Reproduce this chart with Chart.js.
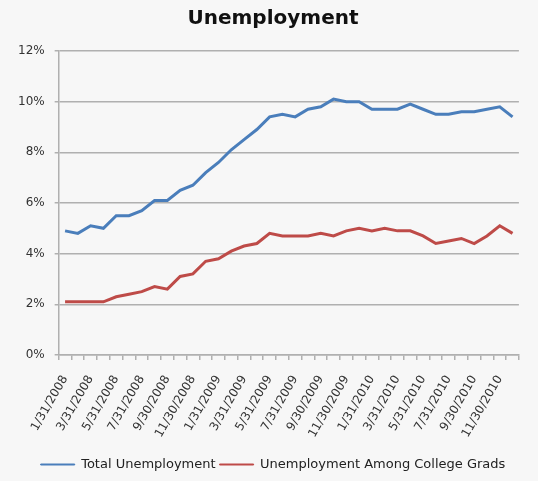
<!DOCTYPE html>
<html>
<head>
<meta charset="utf-8">
<title>Unemployment</title>
<script src="https://cdn.jsdelivr.net/npm/chart.js@4"></script>
<style>
    html, body { margin: 0; padding: 0; background: #f7f7f7; }
    #grafico { width: 538px; height: 481px; }
</style>
</head>
<body>
<div id="grafico"><canvas id="grafico-desemprego"></canvas></div>
<script>
// Month-end dates (only every other one is labelled)
const months = [
    '1/31/2008', '2/29/2008', '3/31/2008', '4/30/2008', '5/31/2008', '6/30/2008',
    '7/31/2008', '8/31/2008', '9/30/2008', '10/31/2008', '11/30/2008', '12/31/2008',
    '1/31/2009', '2/28/2009', '3/31/2009', '4/30/2009', '5/31/2009', '6/30/2009',
    '7/31/2009', '8/31/2009', '9/30/2009', '10/31/2009', '11/30/2009', '12/31/2009',
    '1/31/2010', '2/28/2010', '3/31/2010', '4/30/2010', '5/31/2010', '6/30/2010',
    '7/31/2010', '8/31/2010', '9/30/2010', '10/31/2010', '11/30/2010', '12/31/2010'
];

const totalUnemployment = [
    4.9, 4.8, 5.1, 5.0, 5.5, 5.5, 5.7, 6.1, 6.1, 6.5, 6.7, 7.2,
    7.6, 8.1, 8.5, 8.9, 9.4, 9.5, 9.4, 9.7, 9.8, 10.1, 10.0, 10.0,
    9.7, 9.7, 9.7, 9.9, 9.7, 9.5, 9.5, 9.6, 9.6, 9.7, 9.8, 9.4
];

const collegeGrads = [
    2.1, 2.1, 2.1, 2.1, 2.3, 2.4, 2.5, 2.7, 2.6, 3.1, 3.2, 3.7,
    3.8, 4.1, 4.3, 4.4, 4.8, 4.7, 4.7, 4.7, 4.8, 4.7, 4.9, 5.0,
    4.9, 5.0, 4.9, 4.9, 4.7, 4.4, 4.5, 4.6, 4.4, 4.7, 5.1, 4.8
];

const yTicks = [0, 2, 4, 6, 8, 10, 12];

const corAzul = '#4a7ebb';
const corVermelha = '#be4b48';
const corGrade = '#b0b0b0';
const fonte = "'DejaVu Sans', Verdana, sans-serif";

function gerarGrafico() {
    const ctx = document.getElementById('grafico-desemprego').getContext('2d');

    new Chart(ctx, {
        type: 'line',
        data: {
            labels: months,
            datasets: [{
                label: 'Total Unemployment',
                data: totalUnemployment,
                borderColor: corAzul,
                backgroundColor: corAzul,
                borderWidth: 3,
                pointRadius: 0,
                tension: 0
            }, {
                label: 'Unemployment Among College Grads',
                data: collegeGrads,
                borderColor: corVermelha,
                backgroundColor: corVermelha,
                borderWidth: 3,
                pointRadius: 0,
                tension: 0
            }]
        },
        options: {
            responsive: true,
            maintainAspectRatio: false,
            animation: false,
            layout: {
                padding: { left: 8, right: 0, top: 0, bottom: 0 }
            },
            scales: {
                x: {
                    offset: true,
                    grid: {
                        offset: true,
                        drawOnChartArea: false,
                        color: corGrade,
                        tickLength: 5,
                        lineWidth: 1.5
                    },
                    border: { color: corGrade, width: 1.5 },
                    ticks: {
                        autoSkip: false,
                        minRotation: 60,
                        maxRotation: 60,
                        padding: 13,
                        color: '#333',
                        font: { family: fonte, size: 12 },
                        callback: function (valor, i) {
                            return i % 2 === 0 ? months[i] : '';
                        }
                    },
                    afterFit: function (escala) {
                        escala.height = 99;
                    }
                },
                y: {
                    min: 0,
                    max: 12,
                    afterBuildTicks: function (escala) {
                        escala.ticks = yTicks.map(v => ({ value: v }));
                    },
                    grid: {
                        color: corGrade,
                        lineWidth: 1.5,
                        tickLength: 4
                    },
                    border: { color: corGrade, width: 1.5 },
                    ticks: {
                        padding: 10,
                        color: '#333',
                        font: { family: fonte, size: 12 },
                        callback: function (valor) {
                            return valor + '%';
                        }
                    }
                }
            },
            plugins: {
                title: {
                    display: true,
                    text: 'Unemployment',
                    color: '#111',
                    font: { family: fonte, size: 20, weight: 'bold' },
                    padding: { top: 7, bottom: 20 }
                },
                legend: {
                    display: true,
                    position: 'bottom',
                    labels: {
                        boxWidth: 34,
                        boxHeight: 1,
                        padding: 4,
                        color: '#222',
                        font: { family: fonte, size: 13 },
                        generateLabels: function (chart) {
                            const itens = Chart.defaults.plugins.legend.labels.generateLabels(chart);
                            return itens.map(item => Object.assign(item, { lineWidth: 1 }));
                        }
                    }
                },
                tooltip: {
                    mode: 'index',
                    intersect: false
                }
            }
        }
    });
}

window.onload = function () {
    gerarGrafico();
};
</script>
</body>
</html>
